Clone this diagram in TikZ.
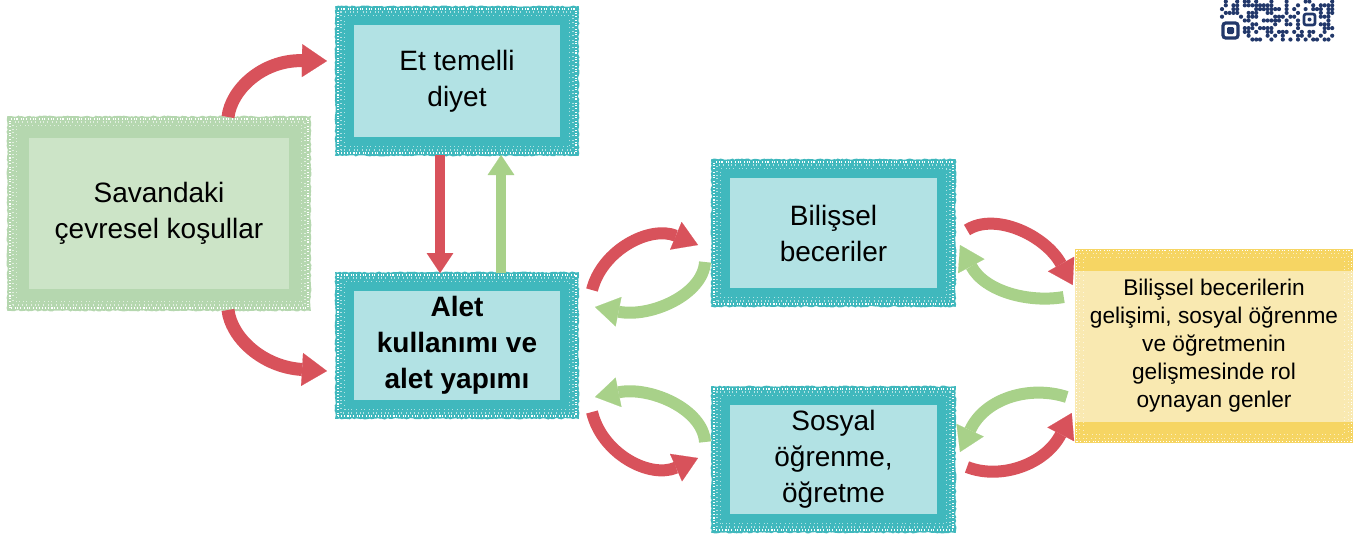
\documentclass[tikz,border=0pt]{standalone}
\usepackage{fontspec}
\setmainfont{Liberation Sans}
\usetikzlibrary{arrows.meta,calc,decorations.pathmorphing}
\definecolor{tealB}{HTML}{40B8BD}
\definecolor{tealI}{HTML}{B2E2E4}
\definecolor{greenB}{HTML}{B5D7AF}
\definecolor{greenI}{HTML}{CCE4C7}
\definecolor{yelB}{HTML}{F6D563}
\definecolor{yelI}{HTML}{F9E9B1}
\definecolor{arrR}{HTML}{D8525B}
\definecolor{arrG}{HTML}{A8D189}
\definecolor{qrc}{HTML}{22386A}
\begin{document}
\begin{tikzpicture}[x=0.75pt,y=-0.75pt,
  box/.style={rectangle, align=center, inner sep=0pt, font=\fontsize{21}{27}\selectfont},
  tealbox/.style={box, fill=tealI, draw=tealB, line width=13.5pt, minimum width=168pt},
  greenbox/.style={box, fill=greenI, draw=greenB, line width=15.75pt},
  yelbox/.style={rectangle, align=center, inner sep=0pt, fill=yelI, font=\fontsize{17}{21}\selectfont},
  rough/.style={line width=1.2pt, decorate, decoration={random steps, segment length=1.5pt, amplitude=0.5pt}},
  speckA/.style={white, line width=0.9pt, dash pattern=on 0.5pt off 1.2pt on 0.8pt off 2.3pt on 0.4pt off 1.7pt},
  speckB/.style={white, opacity=0.6, line width=0.8pt, dash pattern=on 0.4pt off 2.6pt on 0.6pt off 3.4pt on 0.3pt off 2.1pt},
  bigR/.style={draw=arrR, line width=9.75pt, -{Triangle[width=24.75pt,length=18.75pt,line width=0.1pt]}},
  vertR/.style={draw=arrR, line width=7.5pt, -{Triangle[width=20pt,length=15pt,line width=0.1pt]}},
  vertG/.style={draw=arrG, line width=7.5pt, -{Triangle[width=20pt,length=15pt,line width=0.1pt]}},
  curR/.style={draw=arrR, line width=9pt, -{Triangle[width=22.5pt,length=18pt,line width=0.1pt]}},
  curG/.style={draw=arrG, line width=9pt, -{Triangle[width=22.5pt,length=18pt,line width=0.1pt]}}
]
\useasboundingbox (0,0) rectangle (1363,533);

% boxes
\node[greenbox, minimum width=210.75pt, minimum height=129pt] (sav) at (159,213.5) {Savandaki\\çevresel koşullar};
\node[tealbox, minimum height=97.5pt] (et) at (457,81) {Et temelli\\diyet};
\node[tealbox, minimum height=95.25pt, font=\fontsize{21}{27}\selectfont\bfseries] (alet) at (457,345.5) {Alet\\kullanımı ve\\alet yapımı};
\node[tealbox, minimum width=168.75pt, minimum height=96pt] (bil) at (833.5,233) {Bilişsel\\beceriler};
\node[tealbox, minimum width=168.75pt, minimum height=95.25pt] (sos) at (833.5,459.5) {Sosyal\\öğrenme,\\öğretme};
\node[yelbox, minimum width=208.5pt, minimum height=145.5pt] (gen) at (1214,346) {Bilişsel becerilerin\\gelişimi, sosyal öğrenme\\ve öğretmenin\\gelişmesinde rol\\oynayan genler};
\fill[yelB] (gen.north west) rectangle ($(gen.north east)+(0,22)$);
\fill[yelB] ($(gen.south west)+(0,-21)$) rectangle (gen.south east);

% rough, speckled edges
\draw[greenB, rough] (sav.south west) rectangle (sav.north east);
\foreach \b in {et,alet,bil,sos}{\draw[tealB, rough] (\b.south west) rectangle (\b.north east);}
\foreach \b in {sav,et,alet,bil,sos,gen}{
  \draw[speckA] ($(\b.south west)+(2,-2)$) rectangle ($(\b.north east)+(-2,2)$);
  \draw[speckB] ($(\b.south west)+(5,-5)$) rectangle ($(\b.north east)+(-5,5)$);
  \draw[speckB] ($(\b.south west)+(8.5,-8.5)$) rectangle ($(\b.north east)+(-8.5,8.5)$);
}

% connectors
\draw[bigR] ($(sav.north)+(69,0)$) .. controls (231,90) and (262,60) .. ($(et.west)+(-9,-20)$);
\draw[bigR] ($(sav.south)+(69,0)$) .. controls (231,337) and (262,367) .. ($(alet.west)+(-9,25.5)$);
\draw[vertR] ($(et.south)+(-17,0)$) -- ($(alet.north)+(-17,0)$);
\draw[vertG] ($(alet.north)+(44,0)$) -- ($(et.south)+(44,0)$);

\draw[curR] ($(alet.east)+(14,-55.5)$) .. controls (602,250) and (650,225) .. ($(bil.west)+(-14,12)$);
\draw[curG] ($(bil.west)+(-7,29)$) .. controls (703,295) and (650,318) .. ($(alet.east)+(17,-38.5)$);
\draw[curG] ($(sos.west)+(-7,-17.5)$) .. controls (703,409) and (650,386) .. ($(alet.east)+(17,51.5)$);
\draw[curR] ($(alet.east)+(14,66.5)$) .. controls (602,454) and (650,479) .. ($(sos.west)+(-14,-1.5)$);

\draw[curR] ($(bil.east)+(12,-3)$) .. controls (995,212) and (1045,235) .. ($(gen.west)+(-2,-61)$);
\draw[curG] ($(gen.west)+(-11,-49)$) .. controls (1030,303) and (985,292) .. ($(bil.east)+(5,12)$);
\draw[curG] ($(gen.west)+(-8,51)$) .. controls (1030,385) and (985,398) .. ($(sos.east)+(5,-7.5)$);
\draw[curR] ($(sos.east)+(12,7.5)$) .. controls (1000,480) and (1045,465) .. ($(gen.west)+(-3,67)$);

% QR code fragment
\draw[qrc, line width=2.4pt, rounded corners=2pt] (1223,23) rectangle (1238,38);
\fill[qrc, rounded corners=1pt] (1227,27) rectangle (1234,34);
\draw[qrc, line width=2pt, rounded corners=1.5pt] (1304,14) rectangle (1315,25);
\fill[qrc] (1309.5,19.5) circle (2);
\pgfmathsetseed{11}
\foreach \i in {0,...,29}{\foreach \j in {0,...,10}{
  \pgfmathsetmacro\r{rnd}
  \pgfmathsetmacro\xx{1222+3.8*\i}
  \pgfmathsetmacro\yy{1.5+3.8*\j}
  \pgfmathtruncatemacro\ok{(\r<0.5) && !((\xx<1242) && (\yy>19)) && !((\xx>1300) && (\xx<1319) && (\yy>10) && (\yy<29))}
  \ifnum\ok=1 \fill[qrc] (\xx,\yy) circle (2.1);\fi
}}
\end{tikzpicture}
\end{document}
